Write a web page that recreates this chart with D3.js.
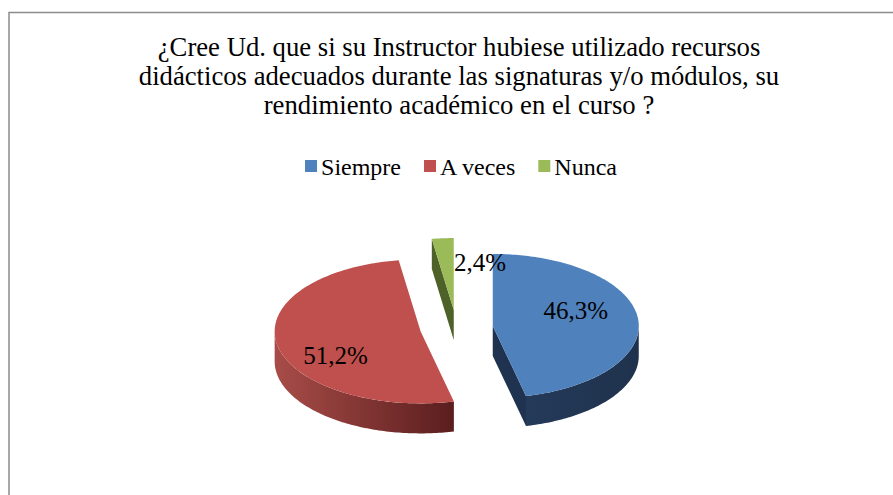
<!DOCTYPE html>
<html>
<head>
<meta charset="utf-8">
<script src="https://cdn.jsdelivr.net/npm/d3@7"></script>
<style>
  body { margin: 0; background: #fff; }
  svg { display: block; }
</style>
</head>
<body>
<div id="chart"></div>
<script>
// Data
const categories = ["Siempre", "A veces", "Nunca"];
const percentages = [46.3, 51.2, 2.4];
const percentLabels = ["46,3%", "51,2%", "2,4%"];
const titleLines = [
  "¿Cree Ud. que si su Instructor hubiese utilizado recursos",
  "didácticos adecuados durante las signaturas y/o módulos, su",
  "rendimiento académico en el curso ?"
];

// Layout
const width = 893, height = 495;
const pieCenter = [456.5, 328];
const rx = 146, ry = 72, depth = 30, explode = 0.25;
const labelNudge = [[-4, -10], [1, 16], [33, -4]];
const serif = "Liberation Serif";

const topColors = ["#4f81bd", "#c0504d", "#9bbb59"];
const wallColors = [["#243a59", "#1f324d"], ["#a84c48", "#5a1e1e"], ["#56692c", "#4a5c25"]];
const faceColors = ["#1f3350", "#7a2c2a", "#4e6128"];

const color = d3.scaleOrdinal().domain(categories).range(topColors);

const svg = d3.select("#chart")
  .append("svg")
    .attr("width", width)
    .attr("height", height)
    .style("font-family", serif);

const defs = svg.append("defs");

// chart frame (cropped on right and bottom)
svg.append("path")
  .attr("d", `M9,${height} V12.5 H${width}`)
  .attr("fill", "none")
  .attr("stroke", "#8c8c8c")
  .attr("stroke-width", 1.5);

// Title
svg.append("text")
  .attr("text-anchor", "middle")
  .style("font-family", serif)
  .attr("font-size", 26.7)
  .selectAll("tspan")
  .data(titleLines)
  .join("tspan")
    .attr("x", 459)
    .attr("y", (d, i) => 56 + i * 29)
    .text(d => d);

// Legend
const legend = svg.append("g");
let lx = 0;
categories.forEach((c, i) => {
  const g = legend.append("g").attr("transform", `translate(${lx},0)`);
  g.append("rect")
    .attr("x", 0).attr("y", -15)
    .attr("width", 12).attr("height", 12)
    .attr("fill", color(c));
  const t = g.append("text")
    .attr("x", 16).attr("y", 0)
    .style("font-family", serif)
    .attr("font-size", 24)
    .text(c);
  lx += 16 + t.node().getComputedTextLength() + 23;
});
const legendW = lx - 23;
legend.attr("transform", `translate(${461 - legendW / 2},175)`);

// 3D pie
const pie = d3.pie().sort(null).value(d => d);
const arcs = pie(percentages);

const pt = (c, a, k = 1, dz = 0) => [c[0] + rx * k * Math.sin(a), c[1] - ry * k * Math.cos(a) + dz];

function rim(c, a0, a1, dz = 0) {
  const n = Math.max(2, Math.ceil(Math.abs(a1 - a0) / (Math.PI / 180)));
  return d3.range(n + 1).map(i => pt(c, a0 + (a1 - a0) * i / n, 1, dz));
}

const line = d3.line();

const slices = arcs.map((a, i) => {
  const mid = (a.startAngle + a.endAngle) / 2;
  const c = [pieCenter[0] + explode * rx * Math.sin(mid), pieCenter[1] - explode * ry * Math.cos(mid)];
  return { i, a0: a.startAngle, a1: a.endAngle, mid, c };
});

const sides = svg.append("g");
const tops = svg.append("g");

slices.forEach(s => {
  const { i, a0, a1, c } = s;

  // radial faces
  if (Math.sin(a0) < -1e-6) {
    const p = pt(c, a0);
    sides.append("path")
      .attr("d", line([c, p, [p[0], p[1] + depth], [c[0], c[1] + depth]]) + "Z")
      .attr("fill", faceColors[i]);
  }
  if (Math.sin(a1) > 1e-6) {
    const p = pt(c, a1);
    sides.append("path")
      .attr("d", line([c, p, [p[0], p[1] + depth], [c[0], c[1] + depth]]) + "Z")
      .attr("fill", faceColors[i]);
  }

  // outer wall (front half only)
  const w0 = Math.max(a0, Math.PI / 2), w1 = Math.min(a1, 3 * Math.PI / 2);
  if (w1 > w0) {
    const topEdge = rim(c, w0, w1);
    const botEdge = rim(c, w1, w0, depth);
    const xs = topEdge.map(p => p[0]);
    const gid = `wall-${i}`;
    const grad = defs.append("linearGradient")
      .attr("id", gid)
      .attr("gradientUnits", "userSpaceOnUse")
      .attr("x1", d3.min(xs)).attr("x2", d3.max(xs))
      .attr("y1", 0).attr("y2", 0);
    // darker towards the right side
    const [cl, cr] = wallColors[i];
    grad.append("stop").attr("offset", 0).attr("stop-color", cl);
    grad.append("stop").attr("offset", 1).attr("stop-color", cr);
    sides.append("path")
      .attr("d", line(topEdge.concat(botEdge)) + "Z")
      .attr("fill", `url(#${gid})`);
  }

  // top face
  tops.append("path")
    .attr("d", line([c].concat(rim(c, a0, a1))) + "Z")
    .attr("fill", color(categories[i]));
});

// value labels
svg.append("g")
  .selectAll("text")
  .data(slices)
  .join("text")
    .attr("text-anchor", "middle")
    .style("font-family", serif)
    .attr("font-size", 25)
    .attr("x", s => pt(s.c, s.mid, 0.6)[0] + labelNudge[s.i][0])
    .attr("y", s => pt(s.c, s.mid, 0.6)[1] + labelNudge[s.i][1] + 8)
    .text(s => percentLabels[s.i]);
</script>
</body>
</html>
